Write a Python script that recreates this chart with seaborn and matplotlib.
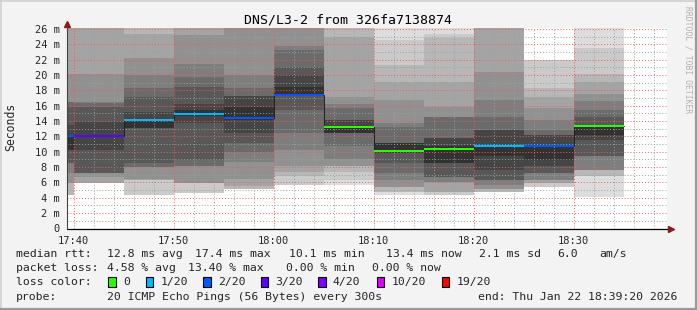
import numpy as np
import pandas as pd
import matplotlib
matplotlib.use("Agg")
import matplotlib.pyplot as plt
import matplotlib.ticker as mticker
from matplotlib.patches import Rectangle
from matplotlib.lines import Line2D
import seaborn as sns

N = np.nan

# ---------------- data ----------------
title = "DNS/L3-2 from 326fa7138874"
end_times = ["17:40", "17:45", "17:50", "17:55", "18:00", "18:05",
             "18:10", "18:15", "18:20", "18:25", "18:30", "18:35"]
loss_count = [2, 3, 1, 1, 2, 2, 0, 0, 0, 1, 2, 0]
median_ms = [12.03, 12.03, 14.14, 14.90, 14.40, 17.40, 13.21, 10.08, 10.40, 10.71, 10.71, 13.36]

# 20 sorted pings per 5-minute step (ms); NaN = lost ping
pings_1740 = [N, 4.35, 4.4, 5.9, 5.9, 7.2, 8.5, 8.55, 10.2, 10.25, 12.2, 13.5, 15.8, 16.5, 16.55, 20.2, 27, 27, 27, N]
pings_1745 = [N, 5.9, 5.95, 5.97, 6.75, 7.2, 7.25, 7.3, 10.2, 11.9, 12.2, 13.9, 15.8, 16.4, 16.45, 20.2, 27, 27, N, N]
pings_1750 = [4.4, 4.4, 6.3, 6.3, 6.5, 8.05, 8.05, 8.5, 13.1, 13.1, 14.3, 15.2, 17.2, 18.3, 20.0, 22.2, 25.4, 27, 27, N]
pings_1755 = [4.6, 4.67, 5.9, 5.9, 5.9, 8.1, 8.1, 8.9, 13.8, 14.7, 15.5, 16.3, 18.5, 19.8, 21.5, 25.2, 27, 27, 27, N]
pings_1800 = [N, 5.2, 5.2, 5.5, 6.5, 8.7, 10.0, 11.1, 12.4, 14.2, 15.9, 17.3, 17.3, 18.3, 20.0, 27, 27, 27, 27, N]
pings_1805 = [N, 5.7, 6.8, 7.4, 8.1, 10.2, 12.4, 15.4, 17.3, 17.3, 18.5, 20.0, 21.1, 23.3, 23.8, 27, 27, 27, 27, N]
pings_1810 = [5.67, 6.3, 7.4, 8.1, 8.1, 9.1, 10.7, 12.4, 12.4, 12.4, 13.4, 14.1, 14.1, 15.7, 16.3, 17.2, 25.0, 27, 27, 27]
pings_1815 = [4.37, 4.8, 4.8, 5.45, 5.45, 6.3, 7.2, 8.5, 9.88, 9.88, 11.1, 11.1, 11.1, 13.3, 13.75, 16.75, 19.1, 21.3, 24.6, 27]
pings_1820 = [4.4, 4.4, 4.8, 4.8, 6.0, 6.0, 6.75, 6.75, 8.5, 8.5, 10.7, 11.8, 11.8, 14.6, 14.6, 15.9, 19.1, 24.8, 25.4, 27]
pings_1825 = [4.7, 4.8, 4.8, 5.2, 5.2, 5.7, 6.3, 6.3, 7.6, 9.4, 10.9, 12.8, 12.8, 14.6, 16.75, 20.4, 27, 27, 27, N]
pings_1830 = [N, 5.45, 5.9, 5.9, 6.3, 6.3, 7.2, 7.2, 8.1, 8.9, 10.9, 12.2, 12.2, 12.8, 14.1, 15.7, 17.2, 18.3, 22.0, N]
pings_1835 = [4.15, 6.9, 6.9, 7.6, 7.6, 7.6, 9.4, 9.4, 11.5, 12.2, 13.5, 13.5, 14.6, 15.4, 16.6, 17.6, 19.1, 20.2, 23.6, 27]

loss_levels = ["0", "1/20", "2/20", "3/20", "4/20", "10/20", "19/20"]
loss_thresholds = [0, 1, 2, 3, 4, 10, 19]
loss_colors = ["#26ff00", "#00b8ff", "#0059ff", "#5e00ff", "#7e00ff", "#dd00ff", "#ff0000"]

legend_rtt = ["median rtt:", "12.8 ms avg", "17.4 ms max", "10.1 ms min", "13.4 ms now", "2.1 ms sd", "6.0", "am/s"]
legend_loss = ["packet loss:", "4.58 % avg", "13.40 % max", "0.00 % min", "0.00 % now"]
probe_text = ["probe:", "20 ICMP Echo Pings (56 Bytes) every 300s", "end: Thu Jan 22 18:39:20 2026"]
graph_start = "17:39:20"
graph_end = "18:39:20"

all_pings = [pings_1740, pings_1745, pings_1750, pings_1755, pings_1800, pings_1805,
             pings_1810, pings_1815, pings_1820, pings_1825, pings_1830, pings_1835]

# ---------------- helpers ----------------
def to_min(s):
    parts = [int(p) for p in s.split(":")]
    m = (parts[0] - 17) * 60 + parts[1]
    if len(parts) > 2:
        m += parts[2] / 60.0
    return m

def loss_color(k):
    c = loss_colors[0]
    for t, col in zip(loss_thresholds, loss_colors):
        if k >= t:
            c = col
    return c

W, H = 697, 310
sns.set_style("white")
plt.rcParams["font.family"] = ["DejaVu Sans Mono", "DejaVu Sans"]

fig = plt.figure(figsize=(W / 100, H / 100), dpi=100)
fig.patch.set_facecolor("#f3f3f3")
ax_l, ax_r, ax_t, ax_b = 67, 667, 28, 228.5
ax = fig.add_axes([ax_l / W, (H - ax_b) / H, (ax_r - ax_l) / W, (ax_b - ax_t) / H])
ax.set_facecolor("white")

x0, x1 = to_min(graph_start), to_min(graph_end)
ymax = 26.15
ax.set_xlim(x0, x1)
ax.set_ylim(0, ymax)

ends = np.array([to_min(t) for t in end_times])
starts = ends - 5.0

# smoke
for st, pings in zip(starts, all_pings):
    p = np.array(pings, dtype=float)
    for i in range(10):
        lo, hi = p[i], p[19 - i]
        if np.isnan(lo) or np.isnan(hi) or hi <= lo:
            continue
        g = (19 * (9 - i) + 50) / 255.0
        ax.bar(st, hi - lo, bottom=lo, width=5.0, align="edge",
               color=(g, g, g), linewidth=0, zorder=1)

# median: thin dark step line
df = pd.DataFrame({"t": list(starts) + [ends[-1]],
                   "median": list(median_ms) + [median_ms[-1]]})
sns.lineplot(data=df, x="t", y="median", ax=ax, color="#202020", linewidth=0.7,
             drawstyle="steps-post", estimator=None, zorder=3)

# median: coloured 2-px band by loss
px = ymax / (ax_b - ax_t)
for st, med, k in zip(starts, median_ms, loss_count):
    ax.bar(st, 2 * px, bottom=med - px, width=5.0, align="edge",
           color=loss_color(k), linewidth=0, zorder=4)

# grid & ticks
ax.xaxis.set_major_locator(mticker.MultipleLocator(10))
ax.xaxis.set_minor_locator(mticker.MultipleLocator(2))
ax.yaxis.set_major_locator(mticker.MultipleLocator(2))
ax.yaxis.set_minor_locator(mticker.MultipleLocator(1))
ax.xaxis.set_major_formatter(mticker.FuncFormatter(
    lambda v, pos: f"{17 + int(round(v)) // 60}:{int(round(v)) % 60:02d}"))
ax.yaxis.set_major_formatter(mticker.FuncFormatter(
    lambda v, pos: "0" if abs(v) < 1e-9 else f"{int(round(v))} m"))
ax.set_axisbelow(False)
ax.grid(which="major", color=(0.95, 0.35, 0.35, 0.5), linestyle=(0, (1, 2)), linewidth=0.7)
ax.grid(which="minor", color=(0.62, 0.62, 0.62, 0.45), linestyle=(0, (1, 2)), linewidth=0.7)
ax.tick_params(which="both", direction="out", color="#777777", width=0.7)
ax.tick_params(which="major", length=2.5, labelsize=7.5, pad=3)
ax.tick_params(which="minor", length=1.5)
ax.tick_params(axis="y", pad=2.5)
for s in ax.spines.values():
    s.set_visible(False)
ax.set_xlabel("")
ax.set_ylabel("")

# axis lines with arrows
ax.add_line(Line2D([0, 1.006], [0, 0], transform=ax.transAxes, color="black",
                   lw=0.9, clip_on=False, zorder=6))
ax.add_line(Line2D([0, 0], [0, 1.02], transform=ax.transAxes, color="#444444",
                   lw=0.8, clip_on=False, zorder=6))
ax.plot([1.006], [0], marker=">", ms=4, color="#8b1a1a", transform=ax.transAxes,
        clip_on=False, zorder=7)
ax.plot([0], [1.02], marker="^", ms=4, color="#8b1a1a", transform=ax.transAxes,
        clip_on=False, zorder=7)

# texts
def ftext(x, y, s, **kw):
    fig.text(x / W, 1 - y / H, s, **kw)

ftext(348, 20, title, ha="center", va="center", fontsize=9.5, color="black")
ftext(11, 127, "Seconds", ha="center", va="center", rotation=90, fontsize=8.3)
ftext(688, 60, "RRDTOOL / TOBI OETIKER", ha="center", va="center", rotation=270,
      fontsize=5.8, color="#b0b0b0")

fs = 8.25
rtt_x = [16, 107.3, 195, 289.3, 386.3, 479.3, 557.7, 599.3]
for x, s in zip(rtt_x, legend_rtt):
    ftext(x, 254, s, ha="left", va="center", fontsize=fs)
loss_x = [16, 107.3, 187.7, 286, 372]
for x, s in zip(loss_x, legend_loss):
    ftext(x, 268.3, s, ha="left", va="center", fontsize=fs)
ftext(16, 282, "loss color:", ha="left", va="center", fontsize=fs)
sq_x = [108.3, 145.7, 203.3, 261, 318.3, 377, 442]
for x, lab, col in zip(sq_x, loss_levels, loss_colors):
    fig.patches.append(Rectangle((x / W, 1 - 286.7 / H), 7.4 / W, 9.7 / H,
                                 transform=fig.transFigure, facecolor=col,
                                 edgecolor="black", linewidth=0.8))
    ftext(x + 14.5, 282, lab, ha="left", va="center", fontsize=fs)
probe_x = [16, 107.3, 478]
for x, s in zip(probe_x, probe_text):
    ftext(x, 296.5, s, ha="left", va="center", fontsize=fs)

# frame
fig.add_artist(Line2D([0, 1], [1 - 0.5 / H, 1 - 0.5 / H], transform=fig.transFigure, color="#cfcfcf", lw=1.2))
fig.add_artist(Line2D([0.5 / W, 0.5 / W], [0, 1], transform=fig.transFigure, color="#cfcfcf", lw=1.2))
fig.add_artist(Line2D([0, 1], [1 / H, 1 / H], transform=fig.transFigure, color="#9a9a9a", lw=1.6))
fig.add_artist(Line2D([1 - 1 / W, 1 - 1 / W], [0, 1], transform=fig.transFigure, color="#9a9a9a", lw=1.6))

fig.savefig("out.png", dpi=100, facecolor=fig.get_facecolor())
